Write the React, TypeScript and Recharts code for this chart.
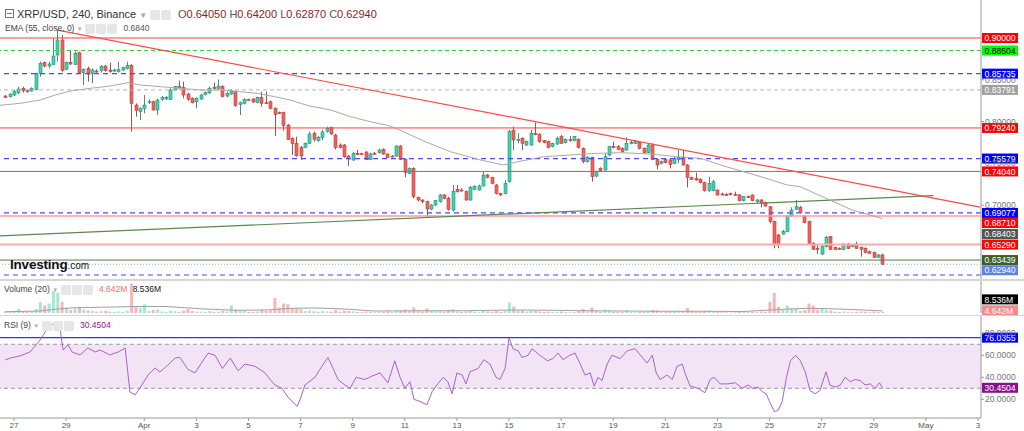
import React from "react";
import {
  ComposedChart,
  Bar,
  Line,
  XAxis,
  YAxis,
  ReferenceLine,
  ReferenceArea,
  Cell,
} from "recharts";

// XRP/USD 4h candles, Mar 26 16:00 -> Apr 29 08:00 (index = candle number)
const OPEN = [
  0.8306, 0.8298, 0.8318, 0.8346, 0.8398, 0.837, 0.8366, 0.8386, 0.8577, 0.8705,
  0.8665, 0.8685, 0.8797, 0.8976, 0.8625, 0.8709, 0.8685, 0.8824, 0.8585, 0.8637,
  0.8577, 0.8605, 0.8609, 0.8665, 0.8617, 0.8613, 0.8597, 0.8617, 0.8637, 0.8669,
  0.8198, 0.8119, 0.8159, 0.8234, 0.8238, 0.8139, 0.8266, 0.8274, 0.8266, 0.8378,
  0.8418, 0.8406, 0.833, 0.8278, 0.8238, 0.827, 0.8322, 0.8346, 0.841, 0.8398,
  0.8418, 0.8306, 0.833, 0.8358, 0.8207, 0.8218, 0.8266, 0.827, 0.823, 0.829,
  0.8226, 0.8238, 0.8159, 0.8107, 0.8107, 0.7959, 0.7796, 0.774, 0.7692, 0.7692,
  0.774, 0.786, 0.7772, 0.7812, 0.788, 0.7927, 0.784, 0.772, 0.772, 0.7588,
  0.7541, 0.762, 0.7616, 0.7636, 0.7548, 0.762, 0.7628, 0.7668, 0.7612, 0.7588,
  0.7588, 0.7708, 0.7548, 0.7381, 0.7441, 0.7094, 0.7062, 0.7042, 0.6954, 0.7002,
  0.7042, 0.7122, 0.7082, 0.6943, 0.719, 0.7182, 0.7162, 0.7062, 0.719, 0.7182,
  0.723, 0.7361, 0.7333, 0.7242, 0.7142, 0.7142, 0.7282, 0.7892, 0.7772, 0.78,
  0.772, 0.772, 0.786, 0.7848, 0.7772, 0.776, 0.77, 0.7732, 0.782, 0.7748,
  0.7788, 0.7772, 0.7788, 0.768, 0.7521, 0.7573, 0.7349, 0.7441, 0.7421, 0.76,
  0.77, 0.77, 0.768, 0.766, 0.774, 0.774, 0.7748, 0.768, 0.7628, 0.772,
  0.7548, 0.75, 0.7549, 0.7541, 0.7501, 0.7549, 0.7573, 0.7481, 0.7333, 0.7321,
  0.7309, 0.7269, 0.7174, 0.7174, 0.7182, 0.7134, 0.7126, 0.7138, 0.713, 0.7122,
  0.7054, 0.7102, 0.7122, 0.7042, 0.7062, 0.703, 0.6982, 0.6803, 0.6644, 0.6655,
  0.6683, 0.6871, 0.6951, 0.6974, 0.6863, 0.6803, 0.6544, 0.6484, 0.6416, 0.6504,
  0.6624, 0.6496, 0.6484, 0.6472, 0.6536, 0.6504, 0.6536, 0.6496, 0.6484, 0.6444,
  0.6432, 0.6376, 0.6405,
];
const HIGH = [
  0.8318, 0.8338, 0.8378, 0.8418, 0.8418, 0.8386, 0.841, 0.8585, 0.8717, 0.8717,
  0.8717, 0.8996, 0.9095, 0.9036, 0.8717, 0.8856, 0.8836, 0.8836, 0.8637, 0.8657,
  0.8637, 0.8625, 0.8677, 0.8677, 0.8705, 0.8633, 0.8717, 0.8657, 0.8717, 0.8689,
  0.8218, 0.8171, 0.8318, 0.8266, 0.825, 0.8274, 0.8306, 0.8306, 0.8398, 0.8426,
  0.849, 0.8478, 0.8346, 0.829, 0.829, 0.833, 0.8358, 0.8418, 0.8465, 0.8505,
  0.8434, 0.8358, 0.8386, 0.837, 0.8238, 0.8278, 0.8274, 0.8282, 0.8298, 0.8358,
  0.8358, 0.825, 0.8171, 0.8119, 0.8119, 0.7971, 0.7812, 0.782, 0.7708, 0.7748,
  0.788, 0.788, 0.7828, 0.79, 0.7939, 0.7939, 0.7852, 0.774, 0.7732, 0.76,
  0.764, 0.766, 0.7628, 0.7648, 0.7628, 0.7636, 0.7676, 0.768, 0.762, 0.76,
  0.772, 0.772, 0.7561, 0.7453, 0.7453, 0.7102, 0.707, 0.7054, 0.7014, 0.7062,
  0.7134, 0.7134, 0.7102, 0.7242, 0.7242, 0.7202, 0.7174, 0.723, 0.7238, 0.7246,
  0.7401, 0.7373, 0.7341, 0.7254, 0.715, 0.7301, 0.79, 0.794, 0.786, 0.7812,
  0.7772, 0.79, 0.7987, 0.786, 0.778, 0.7772, 0.7748, 0.782, 0.784, 0.78,
  0.7828, 0.7828, 0.78, 0.7692, 0.7588, 0.758, 0.7413, 0.7453, 0.762, 0.7708,
  0.776, 0.772, 0.7692, 0.7812, 0.7772, 0.778, 0.776, 0.7692, 0.7732, 0.774,
  0.7561, 0.7533, 0.7561, 0.7553, 0.758, 0.766, 0.766, 0.7493, 0.7341, 0.7389,
  0.7321, 0.7281, 0.7341, 0.7301, 0.719, 0.715, 0.7142, 0.715, 0.7162, 0.7134,
  0.711, 0.7114, 0.713, 0.7074, 0.7074, 0.7042, 0.699, 0.6815, 0.6656, 0.6703,
  0.6883, 0.6974, 0.7062, 0.699, 0.6879, 0.6815, 0.656, 0.6524, 0.6524, 0.6632,
  0.6632, 0.6504, 0.6496, 0.6544, 0.6544, 0.6536, 0.6564, 0.6504, 0.6496, 0.6456,
  0.6444, 0.6416, 0.642,
];
const LOW = [
  0.8282, 0.829, 0.8306, 0.833, 0.8346, 0.8346, 0.8358, 0.8378, 0.8537, 0.8649,
  0.8637, 0.8677, 0.8717, 0.8597, 0.8617, 0.8677, 0.8677, 0.8577, 0.8438, 0.8478,
  0.8458, 0.8585, 0.8585, 0.8597, 0.8585, 0.8593, 0.8585, 0.8605, 0.8625, 0.7879,
  0.8059, 0.8019, 0.8099, 0.821, 0.8131, 0.8079, 0.825, 0.8258, 0.8258, 0.837,
  0.8394, 0.8278, 0.825, 0.8218, 0.8159, 0.8258, 0.8314, 0.833, 0.8386, 0.8386,
  0.829, 0.829, 0.8322, 0.8179, 0.8079, 0.8207, 0.825, 0.8226, 0.8218, 0.8179,
  0.821, 0.8147, 0.7828, 0.8091, 0.7891, 0.778, 0.76, 0.758, 0.7541, 0.768,
  0.7732, 0.776, 0.776, 0.778, 0.7868, 0.784, 0.7668, 0.768, 0.7568, 0.7469,
  0.7529, 0.7596, 0.76, 0.7541, 0.7541, 0.7604, 0.762, 0.7604, 0.7564, 0.7572,
  0.758, 0.7541, 0.7333, 0.7373, 0.7082, 0.7046, 0.7022, 0.6863, 0.6942, 0.699,
  0.703, 0.707, 0.6935, 0.6923, 0.715, 0.7162, 0.7054, 0.7054, 0.7182, 0.7174,
  0.7222, 0.7321, 0.725, 0.713, 0.711, 0.713, 0.727, 0.766, 0.774, 0.766,
  0.7708, 0.7708, 0.7836, 0.7748, 0.774, 0.768, 0.7692, 0.772, 0.7732, 0.774,
  0.776, 0.7764, 0.768, 0.7501, 0.7509, 0.7281, 0.7333, 0.7401, 0.7413, 0.7588,
  0.768, 0.766, 0.7628, 0.7652, 0.7728, 0.7732, 0.7668, 0.762, 0.762, 0.7541,
  0.7429, 0.7489, 0.75, 0.7441, 0.7493, 0.7501, 0.7473, 0.7214, 0.7301, 0.7293,
  0.7262, 0.7162, 0.7162, 0.7166, 0.7114, 0.7118, 0.711, 0.7118, 0.7114, 0.7046,
  0.7046, 0.7086, 0.7046, 0.7014, 0.6974, 0.6982, 0.6783, 0.6484, 0.6484, 0.6648,
  0.6676, 0.6863, 0.6943, 0.6903, 0.6783, 0.6524, 0.6464, 0.6416, 0.6404, 0.6496,
  0.6464, 0.6464, 0.6472, 0.6464, 0.6476, 0.6496, 0.6476, 0.6384, 0.6424, 0.6416,
  0.6368, 0.6368, 0.6287,
];
const CLOSE = [
  0.829, 0.833, 0.8358, 0.839, 0.837, 0.8362, 0.8398, 0.8577, 0.8697, 0.8665,
  0.8689, 0.8784, 0.8976, 0.8609, 0.8705, 0.8689, 0.8817, 0.8585, 0.8625, 0.8569,
  0.8617, 0.8601, 0.8657, 0.8609, 0.8597, 0.8617, 0.8625, 0.8645, 0.8669, 0.8218,
  0.8131, 0.8159, 0.8198, 0.8242, 0.8139, 0.8258, 0.829, 0.829, 0.8378, 0.8418,
  0.8406, 0.8318, 0.8266, 0.8226, 0.8278, 0.8318, 0.8346, 0.8398, 0.8394, 0.8426,
  0.8298, 0.8338, 0.8366, 0.8191, 0.8226, 0.8266, 0.8262, 0.8234, 0.829, 0.8218,
  0.8222, 0.8159, 0.8087, 0.8103, 0.7951, 0.7788, 0.774, 0.7592, 0.7588, 0.774,
  0.7852, 0.7788, 0.7812, 0.7876, 0.7919, 0.7852, 0.7692, 0.7692, 0.758, 0.7553,
  0.762, 0.7608, 0.7612, 0.7548, 0.7612, 0.7616, 0.766, 0.7612, 0.7572, 0.7584,
  0.7708, 0.7548, 0.7393, 0.7441, 0.7102, 0.7062, 0.7042, 0.6954, 0.7002, 0.7054,
  0.7122, 0.7082, 0.6951, 0.7162, 0.7162, 0.7178, 0.7062, 0.7214, 0.7222, 0.723,
  0.7361, 0.7333, 0.7262, 0.7142, 0.7122, 0.7262, 0.788, 0.778, 0.7788, 0.774,
  0.776, 0.786, 0.7844, 0.776, 0.7748, 0.7692, 0.774, 0.78, 0.774, 0.7788,
  0.7772, 0.782, 0.7692, 0.7521, 0.7573, 0.7341, 0.7401, 0.7413, 0.758, 0.77,
  0.7696, 0.7668, 0.764, 0.774, 0.7748, 0.776, 0.768, 0.7628, 0.772, 0.7548,
  0.7481, 0.7521, 0.7509, 0.7489, 0.7561, 0.7573, 0.7481, 0.7333, 0.7309, 0.7301,
  0.7269, 0.7174, 0.7262, 0.7281, 0.7122, 0.713, 0.7122, 0.7134, 0.7126, 0.7054,
  0.7102, 0.7098, 0.7054, 0.7062, 0.7022, 0.699, 0.6803, 0.6524, 0.6524, 0.6683,
  0.6871, 0.6943, 0.6982, 0.6911, 0.6791, 0.6544, 0.6472, 0.648, 0.6504, 0.6616,
  0.6472, 0.6472, 0.648, 0.6536, 0.6484, 0.6524, 0.6484, 0.6472, 0.6432, 0.6424,
  0.6376, 0.6405, 0.6294,
];
// volume in millions
const VOLUME = [
  7, 6, 5, 16, 8, 4, 6, 16, 44, 30,
  38, 88, 82, 45, 22, 12, 18, 25, 14, 10,
  8, 5, 7, 9, 6, 4, 6, 5, 9, 118,
  28, 20, 35, 8, 12, 14, 6, 4, 9, 7,
  5, 10, 16, 8, 6, 5, 4, 8, 5, 6,
  9, 6, 30, 14, 10, 8, 4, 5, 6, 14,
  8, 10, 60, 22, 38, 35, 20, 18, 15, 8,
  10, 7, 5, 8, 6, 5, 12, 5, 9, 8,
  7, 4, 3, 6, 5, 3, 4, 5, 6, 3,
  8, 9, 14, 8, 22, 8, 6, 18, 9, 7,
  8, 5, 12, 15, 6, 4, 6, 8, 5, 4,
  10, 6, 5, 8, 4, 9, 42, 25, 10, 12,
  6, 10, 8, 6, 4, 6, 4, 5, 6, 4,
  3, 4, 8, 16, 6, 22, 8, 5, 14, 10,
  5, 4, 5, 9, 4, 3, 5, 4, 6, 12,
  10, 4, 5, 6, 5, 7, 8, 20, 6, 5,
  4, 8, 10, 7, 5, 3, 3, 2, 3, 6,
  4, 3, 5, 4, 6, 5, 45, 80, 25, 12,
  30, 20, 16, 8, 12, 38, 30, 14, 18, 12,
  10, 5, 4, 6, 5, 3, 5, 6, 5, 3,
  6, 4, 4.642,
];

// EMA 55
const EMA_AT = [
  -1.2, 3.5, 8, 11.5, 15, 19.6, 24.2, 28.3, 31, 35.7, 40.3, 44.9, 50, 54, 58, 62,
  65.6, 70, 74.9, 79.5, 84, 88.7, 93.3, 96.7, 102.5, 109.4, 114.7, 118, 124, 130,
  136, 142, 148.5, 154.8, 160, 166, 174, 180, 183, 189, 195, 202,
];
const EMA_VAL = [
  0.8195, 0.8219, 0.8258, 0.8318, 0.8366, 0.8398, 0.8426, 0.8466, 0.8438, 0.8418,
  0.8398, 0.8378, 0.8378, 0.8358, 0.8338, 0.8298, 0.8258, 0.8187, 0.8139, 0.8059,
  0.7999, 0.7947, 0.784, 0.776, 0.764, 0.7541, 0.7481, 0.752, 0.758, 0.76,
  0.762, 0.7628, 0.7612, 0.758, 0.7561, 0.7461, 0.7341, 0.7242, 0.7222, 0.7083,
  0.6943, 0.684,
];

// Volume MA(20), millions
const VOLMA_AT = [0, 8, 12, 16, 22, 30, 37, 46, 53, 60, 66, 72, 78, 85, 95, 105, 117, 125, 135, 150, 160, 170, 178, 185, 192, 202];
const VOLMA_VAL = [5, 8, 16, 21, 23, 26, 26, 16, 11, 12, 19, 20, 16, 8, 9, 9, 12, 11, 9, 7, 7, 6, 14, 19, 16, 8.536];

// RSI(9)
const RSI_AT = [
  0, 1.1, 3.4, 5.7, 8, 9.8, 10.8, 11.4, 12.1, 12.6, 13.3, 14.4, 15.4, 17.2, 19, 20.7,
  21.8, 24.1, 26, 27.6, 28.7, 29.9, 31, 32.9, 34.5, 35.6, 37.5, 39.1, 40.2, 42.1,
  43.7, 45, 46.7, 48.3, 50, 51.8, 53.6, 55.2, 57.5, 59.8, 61, 62.1, 63.7, 65.1,
  67.2, 67.9, 69, 71.3, 72.9, 74.3, 75.5, 76.6, 78.2, 79.4, 80.8, 82.8, 84.4, 86.3,
  88.1, 89.7, 90.9, 92, 93.2, 94.1, 95.5, 97.1, 98.3, 99.4, 100.8, 101.9, 102.9,
  104, 105.2, 106.1, 107, 108.9, 110.2, 111.6, 113, 113.9, 115.1, 116, 116.9, 118.1,
  119, 120.4, 121.3, 123.1, 124.9, 126.1, 127.3, 128.4, 130, 131.2, 132.4, 133.5,
  134.7, 135.6, 136.5, 137.4, 138.6, 139.7, 141.6, 143.2, 145, 146.7, 147.8, 149,
  149.9, 150.8, 152.4, 153.6, 154.7, 155.9, 156.5, 157.7, 159.5, 161.1, 162.3,
  163.2, 164.6, 166.4, 168.1, 169.7, 171.1, 172, 173.4, 174.3, 175.2, 176.1, 177.1,
  178, 178.9, 179.9, 180.8, 182, 183.1, 184.2, 185.3, 186.5, 187.6, 189, 189.9,
  191.1, 192.3, 193.4, 194.6, 195.7, 196.9, 198, 199.2, 200.3, 201.3, 202,
];
const RSI_VAL = [
  55.7, 57.5, 59.4, 63, 73.9, 84.8, 87.5, 90.3, 83, 84.8, 64.8, 69.4, 63, 60.3, 66.6, 63,
  64.8, 60.3, 63, 66.6, 26.6, 24, 30.3, 42.1, 48.5, 44.8, 51.2, 57.5, 58, 47,
  44, 52, 62, 60, 48, 57.5, 46, 52, 50, 44, 38, 33, 30, 22,
  13.4, 20, 33, 40, 50, 58, 48, 38, 33, 30, 40, 38, 41, 44,
  35, 55, 40, 30, 36, 20, 18, 15, 27, 33, 40, 36, 25,
  44, 42, 34, 45, 48, 56, 52, 40, 38, 48, 76, 66, 64,
  58, 60, 66, 60, 55, 57, 62, 56, 60, 62, 52, 42,
  44, 32, 40, 37, 52, 60, 57, 64, 66, 58, 53, 60,
  44, 38, 42, 38, 50, 52, 44, 32, 30, 26, 38,
  40, 34, 34, 35, 30, 33, 30, 31, 27, 25, 17, 8.7,
  10, 18, 40, 55, 60, 55, 45, 28, 25, 28, 45, 33,
  31, 33, 40, 36, 38, 37, 33, 34, 30, 35, 30.45,
];

// date ticks (candle index of each midnight)
const DAY_TICKS = [2, 14, 32, 44, 56, 68, 80, 92, 104, 116, 128, 140, 152, 164, 176, 188, 200, 212, 224];
const DAY_LABELS = ["27", "29", "Apr", "3", "5", "7", "9", "11", "13", "15", "17", "19", "21", "23", "25", "27", "29", "May", "3"];

// horizontal levels drawn on the price pane
const LEVEL_PRICE = [0.9, 0.88504, 0.85735, 0.83791, 0.7924, 0.75579, 0.7404, 0.69077, 0.6871, 0.6529, 0.63439, 0.6294, 0.6165];
const LEVEL_STYLE = [
  { stroke: "#ff4040", w: 1, dash: "", tag: "#ff0000", fg: "#fff", dy: 0 },
  { stroke: "#2edc2e", w: 1, dash: "4 3", tag: "#00ff00", fg: "#000", dy: 0 },
  { stroke: "#4848ff", w: 1.2, dash: "5 4", tag: "#0000ff", fg: "#fff", dy: 0 },
  { stroke: "#b4b4b4", w: 1, dash: "4 3", tag: "#a0a0a0", fg: "#fff", dy: 0 },
  { stroke: "#ff4040", w: 1, dash: "", tag: "#ff0000", fg: "#fff", dy: 0 },
  { stroke: "#4848ff", w: 1.2, dash: "5 4", tag: "#0000ff", fg: "#fff", dy: 0 },
  { stroke: "#ff4040", w: 1, dash: "", tag: "#ff0000", fg: "#fff", dy: 0 },
  { stroke: "#4848ff", w: 1.2, dash: "5 4", tag: "#0000ff", fg: "#fff", dy: 0 },
  { stroke: "#ff9c9c", w: 1.5, dash: "", tag: "#ff0000", fg: "#fff", dy: 7 },
  { stroke: "#ffaaaa", w: 2, dash: "", tag: "#ff0000", fg: "#fff", dy: 0 },
  { stroke: "#587c48", w: 1, dash: "", tag: "#3b5e2b", fg: "#fff", dy: 0 },
  { stroke: "#7b9be6", w: 1, dash: "1 2", tag: "#5b82e6", fg: "#fff", dy: 6 },
  { stroke: "#4848ff", w: 1.2, dash: "5 4", tag: "", fg: "#fff", dy: 0 },
];
const EMA_LAST = 0.68403;

const RED_TREND = [
  { x: 12, y: 0.9095 },
  { x: 224.5, y: 0.6978 },
];
const GREEN_TREND = [
  { x: -1.2, y: 0.6632 },
  { x: 213.7, y: 0.7114 },
];

const FONT = '"Liberation Sans", Arial, Helvetica, sans-serif';
const W = 1024;
const AXIS_W = 43;
const X_DOMAIN: [number, number] = [-1.224, 224.69];
const PRICE_DOMAIN: [number, number] = [0.61172, 0.94545];
const UP = "#3dd5b3";
const UP_EDGE = "#2b8a75";
const DN = "#f0625c";
const DN_EDGE = "#b8413c";

const candles = OPEN.map((o, i) => ({
  i,
  o,
  h: HIGH[i],
  l: LOW[i],
  c: CLOSE[i],
  range: [LOW[i], HIGH[i]],
  v: VOLUME[i],
}));
const ema = EMA_AT.map((i, k) => ({ i, v: EMA_VAL[k] }));
const volMa = VOLMA_AT.map((i, k) => ({ i, v: VOLMA_VAL[k] }));
const rsi = RSI_AT.map((i, k) => ({ i, v: RSI_VAL[k] }));

function Candle(props: any) {
  const { x, y, width, height, payload } = props;
  if (!payload || x == null) return null;
  let top = y;
  let hh = height;
  if (hh < 0) {
    top = y + hh;
    hh = -hh;
  }
  const cx = Math.round(x + width / 2) + 0.5;
  const span = payload.h - payload.l || 1e-6;
  const py = (v: number) => top + ((payload.h - v) / span) * hh;
  const up = payload.c >= payload.o;
  const b1 = py(Math.max(payload.o, payload.c));
  const b2 = py(Math.min(payload.o, payload.c));
  return (
    <g>
      <line x1={cx} x2={cx} y1={top} y2={top + hh} stroke={up ? "#5b857a" : "#8f5a57"} strokeWidth={1} />
      <rect
        x={cx - 1.5}
        y={b1}
        width={3}
        height={Math.max(b2 - b1, 1)}
        fill={up ? UP : DN}
        stroke={up ? UP_EDGE : DN_EDGE}
        strokeWidth={0.6}
      />
    </g>
  );
}

const tagLabel = (text: string, bg: string, fg: string, dy = 0) => (p: any) => {
  const vb = p.viewBox ?? {};
  const x = (vb.x ?? 0) + (vb.width ?? 0) + 1;
  const y = (vb.y ?? 0) + dy;
  return (
    <g>
      <rect x={x} y={y - 5} width={36} height={10} fill={bg} />
      <text x={x + 2.5} y={y + 3.2} fontSize={8.6} fill={fg} fontFamily={FONT}>
        {text}
      </text>
    </g>
  );
};

const axisTick = { fontSize: 8.5, fill: "#777", fontFamily: FONT };

function Icons({ n }: { n: number }) {
  return (
    <span style={{ display: "inline-flex", gap: 1, verticalAlign: "middle" }}>
      {Array.from({ length: n }).map((_, k) => (
        <span
          key={k}
          style={{
            width: 10,
            height: 10,
            background: "#e6e6e6",
            borderRadius: 2,
            display: "inline-block",
          }}
        />
      ))}
    </span>
  );
}

export default function App() {
  return (
    <div
      style={{
        position: "fixed",
        left: 0,
        top: 0,
        width: W,
        height: 431,
        background: "#fff",
        overflow: "hidden",
        fontFamily: FONT,
      }}
    >
      {/* price pane */}
      <div style={{ position: "absolute", left: 0, top: 0 }}>
        <ComposedChart width={W} height={279} data={candles} margin={{ top: 0, right: 0, bottom: 0, left: 0 }}>
          <XAxis dataKey="i" type="number" domain={X_DOMAIN} allowDataOverflow hide />
          <YAxis
            orientation="right"
            width={AXIS_W}
            domain={PRICE_DOMAIN}
            allowDataOverflow
            ticks={[0.7, 0.75, 0.8, 0.85]}
            tickFormatter={(v: number) => v.toFixed(5)}
            tick={axisTick}
            tickSize={3}
            tickMargin={1}
            axisLine={{ stroke: "#9a9a9a" }}
            tickLine={{ stroke: "#9a9a9a" }}
          />
          {LEVEL_PRICE.map((p, k) => {
            const s = LEVEL_STYLE[k];
            return (
              <ReferenceLine
                key={k}
                y={p}
                stroke={s.stroke}
                strokeWidth={s.w}
                strokeDasharray={s.dash || undefined}
                label={s.tag ? tagLabel(p.toFixed(5), s.tag, s.fg, s.dy) : undefined}
              />
            );
          })}
          <ReferenceLine segment={GREEN_TREND} stroke="#5d8750" strokeWidth={1.2} ifOverflow="visible" />
          <ReferenceLine segment={RED_TREND} stroke="#ff4a4a" strokeWidth={1.2} ifOverflow="visible" />
          <Line
            data={ema}
            dataKey="v"
            stroke="#a9a9a9"
            strokeWidth={1}
            dot={false}
            activeDot={false}
            isAnimationActive={false}
          />
          <Bar
            dataKey="range"
            barSize={3}
            isAnimationActive={false}
            shape={(p: any) => <Candle {...p} />}
          />
          <ReferenceLine y={EMA_LAST} stroke="none" label={tagLabel(EMA_LAST.toFixed(5), "#555555", "#fff", 15.5)} />
        </ComposedChart>
      </div>

      {/* volume pane */}
      <div style={{ position: "absolute", left: 0, top: 281 }}>
        <ComposedChart width={W} height={35} data={candles} margin={{ top: 0, right: 0, bottom: 3, left: 0 }}>
          <XAxis dataKey="i" type="number" domain={X_DOMAIN} allowDataOverflow hide />
          <YAxis
            orientation="right"
            width={AXIS_W}
            domain={[0, 128]}
            allowDataOverflow
            ticks={[100]}
            tickFormatter={(v: number) => `${v}M`}
            tick={axisTick}
            tickSize={3}
            tickMargin={1}
            axisLine={{ stroke: "#9a9a9a" }}
            tickLine={{ stroke: "#9a9a9a" }}
          />
          <Bar dataKey="v" barSize={3} isAnimationActive={false}>
            {candles.map((c) => (
              <Cell key={c.i} fill={c.c >= c.o ? "#a6e8d2" : "#f8b7b7"} />
            ))}
          </Bar>
          <Line
            data={volMa}
            dataKey="v"
            stroke="#a0a0a0"
            strokeWidth={1}
            dot={false}
            activeDot={false}
            isAnimationActive={false}
          />
          <ReferenceLine y={8.536} stroke="none" label={tagLabel("8.536M", "#000000", "#fff", -11.5)} />
          <ReferenceLine y={4.642} stroke="none" label={tagLabel("4.642M", "#f58a8a", "#fff", -1.5)} />
        </ComposedChart>
      </div>

      <div style={{ position: "absolute", left: 0, top: 279, width: W, height: 2, background: "#d6d6d6" }} />
      <div style={{ position: "absolute", left: 0, top: 315, width: W, height: 1, background: "#d6d6d6" }} />

      {/* RSI pane */}
      <div style={{ position: "absolute", left: 0, top: 316 }}>
        <ComposedChart width={W} height={115} data={rsi} margin={{ top: 0, right: 0, bottom: 0, left: 0 }}>
          <XAxis
            dataKey="i"
            type="number"
            domain={X_DOMAIN}
            allowDataOverflow
            ticks={DAY_TICKS}
            interval={0}
            tickFormatter={(v: number) => DAY_LABELS[DAY_TICKS.indexOf(v)] ?? ""}
            tick={{ fontSize: 8, fill: "#555", fontFamily: FONT }}
            tickSize={3}
            tickMargin={1}
            height={13}
            axisLine={{ stroke: "#9a9a9a" }}
            tickLine={{ stroke: "#9a9a9a" }}
          />
          <YAxis
            orientation="right"
            width={AXIS_W}
            domain={[3, 95.7]}
            allowDataOverflow
            ticks={[20, 40, 60, 80]}
            tickFormatter={(v: number) => v.toFixed(4)}
            tick={axisTick}
            tickSize={3}
            tickMargin={1}
            axisLine={{ stroke: "#9a9a9a" }}
            tickLine={{ stroke: "#9a9a9a" }}
          />
          <ReferenceArea y1={30} y2={70} fill="#f3e4f5" fillOpacity={1} stroke="none" />
          <ReferenceLine y={70} stroke="#9a9a9a" strokeDasharray="4 3" />
          <ReferenceLine y={30} stroke="#9a9a9a" strokeDasharray="4 3" />
          <ReferenceLine y={76.0355} stroke="#2f2fff" strokeWidth={1.2} label={tagLabel("76.0355", "#0000ff", "#fff", 0)} />
          <Line dataKey="v" stroke="#a862c9" strokeWidth={1} dot={false} activeDot={false} isAnimationActive={false} />
          <ReferenceLine y={30.4504} stroke="none" label={tagLabel("30.4504", "#8b0f8b", "#fff", 0)} />
        </ComposedChart>
      </div>

      {/* legends */}
      <div style={{ position: "absolute", left: 5, top: 9, width: 9, height: 9, border: "1px solid #777", boxSizing: "border-box" }}>
        <div style={{ position: "absolute", left: 1, right: 1, top: 3, height: 1, background: "#777" }} />
      </div>
      <div style={{ position: "absolute", left: 17, top: 8, fontSize: 11, lineHeight: "12px", color: "#333", whiteSpace: "nowrap" }}>
        XRP/USD, 240, Binance <span style={{ color: "#aaa", fontSize: 8 }}>▼</span> <Icons n={2} />
      </div>
      <div style={{ position: "absolute", left: 178, top: 8, fontSize: 11, lineHeight: "12px", whiteSpace: "nowrap" }}>
        <span style={{ color: "#555" }}>O</span><span style={{ color: "#8c1d1d" }}>0.64050</span>{" "}
        <span style={{ color: "#555" }}>H</span><span style={{ color: "#8c1d1d" }}>0.64200</span>{" "}
        <span style={{ color: "#555" }}>L</span><span style={{ color: "#8c1d1d" }}>0.62870</span>{" "}
        <span style={{ color: "#555" }}>C</span><span style={{ color: "#8c1d1d" }}>0.62940</span>
      </div>
      <div style={{ position: "absolute", left: 5, top: 23, fontSize: 8.5, lineHeight: "10px", color: "#444", whiteSpace: "nowrap" }}>
        EMA (55, close, 0) <span style={{ color: "#aaa", fontSize: 6 }}>▼</span> <Icons n={3} />{" "}
        <span style={{ color: "#555", marginLeft: 4 }}>0.6840</span>
      </div>
      <div style={{ position: "absolute", left: 10, top: 255, whiteSpace: "nowrap", color: "#111" }}>
        <span style={{ fontWeight: "bold", fontSize: 13.5, letterSpacing: -0.2 }}>Investing</span>
        <span style={{ fontSize: 10 }}>.com</span>
      </div>
      <div style={{ position: "absolute", left: 4, top: 284, fontSize: 8.5, lineHeight: "10px", color: "#444", whiteSpace: "nowrap" }}>
        Volume (20) <span style={{ color: "#aaa", fontSize: 6 }}>▼</span> <Icons n={3} />{" "}
        <span style={{ color: "#f07070", marginLeft: 4 }}>4.642M</span>{" "}
        <span style={{ color: "#111", marginLeft: 3 }}>8.536M</span>
      </div>
      <div style={{ position: "absolute", left: 4, top: 320, fontSize: 8.5, lineHeight: "10px", color: "#444", whiteSpace: "nowrap" }}>
        RSI (9) <span style={{ color: "#aaa", fontSize: 6 }}>▼</span> <Icons n={3} />{" "}
        <span style={{ color: "#8b1a8b", marginLeft: 4 }}>30.4504</span>
      </div>
    </div>
  );
}
